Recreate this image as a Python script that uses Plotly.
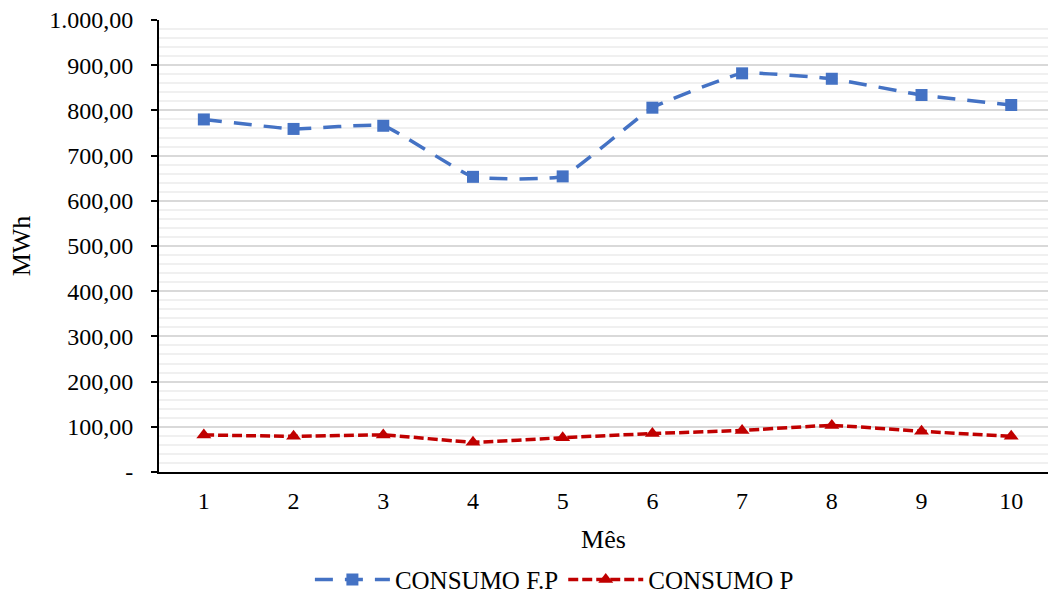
import plotly.graph_objects as go

meses = [1, 2, 3, 4, 5, 6, 7, 8, 9, 10]
consumo_fp = [780, 759, 766, 653, 654, 806, 882, 870, 834, 812]
consumo_p = [82, 79, 82, 66, 76, 85, 92, 103, 90, 79]

y_ticks = [0, 100, 200, 300, 400, 500, 600, 700, 800, 900, 1000]
y_labels = ["-", "100,00", "200,00", "300,00", "400,00", "500,00",
            "600,00", "700,00", "800,00", "900,00", "1.000,00"]

FONT = "Liberation Serif"

fig = go.Figure()
fig.add_trace(go.Scatter(
    x=meses, y=consumo_fp, name="CONSUMO F.P", mode="lines+markers",
    line=dict(color="#4472C4", width=3.5, dash="18px,12px", shape="spline", smoothing=0.35),
    marker=dict(symbol="square", size=12, color="#4472C4"),
))
fig.add_trace(go.Scatter(
    x=meses, y=consumo_p, name="CONSUMO P", mode="lines+markers",
    line=dict(color="#C00000", width=3.5, dash="10px,4px", shape="spline", smoothing=0.35),
    marker=dict(symbol="triangle-up", size=13, color="#C00000"),
))

fig.update_layout(
    width=1048, height=594,
    margin=dict(l=159, r=0, t=20, b=122),
    paper_bgcolor="white", plot_bgcolor="white",
    font=dict(family=FONT, size=24, color="#000000"),
    showlegend=True,
    legend=dict(
        orientation="h", xref="container", yref="container",
        x=0.529, xanchor="center", y=0.024, yanchor="middle",
        font=dict(family=FONT, size=25), itemwidth=75,
    ),
)
fig.update_xaxes(
    range=[0.5, 10.41], tickvals=meses, ticktext=[str(m) for m in meses],
    showline=True, linecolor="#000000", linewidth=2,
    showgrid=False, zeroline=False, ticks="",
    tickfont=dict(family=FONT, size=24), ticklabelstandoff=6,
    title=dict(text="Mês", font=dict(family=FONT, size=26), standoff=17),
)
fig.update_yaxes(
    range=[0, 1000], tickvals=y_ticks, ticktext=y_labels,
    showline=True, linecolor="#000000", linewidth=2,
    ticks="outside", ticklen=6, tickcolor="#000000", tickwidth=1.5,
    showgrid=True, gridcolor="#D9D9D9", gridwidth=1.5, zeroline=False,
    minor=dict(dtick=20, showgrid=True, gridcolor="#F0F0F0", gridwidth=1.5, ticks=""),
    tickfont=dict(family=FONT, size=24), ticklabelstandoff=13,
    title=dict(text="MWh", font=dict(family=FONT, size=26), standoff=11),
)

fig.write_html("out.html")
